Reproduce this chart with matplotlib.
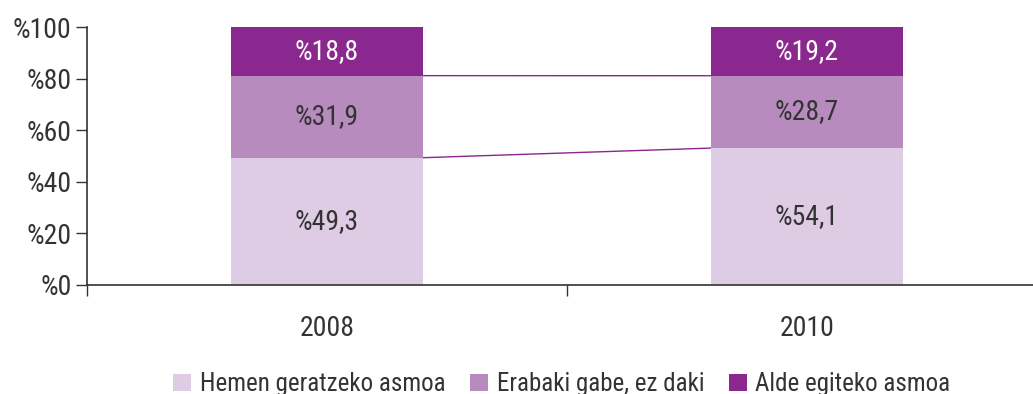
import numpy as np
import matplotlib.pyplot as plt
from matplotlib.patches import Patch

plt.rcParams['font.family'] = ['Roboto Condensed', 'DejaVu Sans']
plt.rcParams['font.stretch'] = 'condensed'

years = ['2008', '2010']
series = ['Hemen geratzeko asmoa', 'Erabaki gabe, ez daki', 'Alde egiteko asmoa']
values = [
    [49.3, 54.1],   # Hemen geratzeko asmoa
    [31.9, 28.7],   # Erabaki gabe, ez daki
    [18.8, 19.2],   # Alde egiteko asmoa
]
colors = ['#ddcce3', '#b78bbd', '#8b288f']
text_colors = ['#333333', '#333333', 'white']

# 100 % stacked: each year is scaled to its own total
vals = np.array(values)
shares = vals / vals.sum(axis=0) * 100

fig = plt.figure(figsize=(10.33, 3.94), dpi=100)
# x axis runs past the right edge of the figure
ax = fig.add_axes([87 / 1033, 1 - 284.5 / 394, 960 / 1033, 257.2 / 394])

x = np.arange(len(years))
width = 0.4
bottom = np.zeros(len(years))
for raw, sh, col, tcol in zip(vals, shares, colors, text_colors):
    ax.bar(x, sh, width, bottom=bottom, color=col, zorder=2)
    for xi, b, h, v in zip(x, bottom, sh, raw):
        ax.text(xi, b + h / 2, '%' + f'{v:.1f}'.replace('.', ','),
                ha='center', va='center', color=tcol, fontsize=20, zorder=3)
    bottom = bottom + sh
    # series lines between the bars
    if col != colors[-1]:
        ax.plot([x[0] + width / 2, x[1] - width / 2], [bottom[0], bottom[1]],
                color='#8b288f', lw=1, zorder=1)

ax.set_xlim(-0.5, 1.5)
ax.set_ylim(0, 100)
ax.set_yticks(np.arange(0, 101, 20))
ax.set_yticklabels(['%' + str(v) for v in range(0, 101, 20)])
ax.set_xticks([-0.5, 0.5, 1.5])
ax.set_xticklabels([])
ax.set_xticks(x, minor=True)
ax.set_xticklabels(years, minor=True)
ax.tick_params(axis='x', which='major', length=8, width=1, color='#333333', direction='out')
ax.tick_params(axis='x', which='minor', length=0, pad=22, labelsize=20, labelcolor='#333333')
ax.tick_params(axis='y', length=8, width=1, color='#333333', labelsize=20,
               labelcolor='#333333', pad=3)

for s in ['top', 'right']:
    ax.spines[s].set_visible(False)
for s in ['left', 'bottom']:
    ax.spines[s].set_color('#333333')
    ax.spines[s].set_linewidth(1.2)

handles = [Patch(facecolor=c, label=l) for c, l in zip(colors, series)]
fig.legend(handles=handles, loc='center', bbox_to_anchor=(562 / 1033, 10 / 394),
           ncol=3, frameon=False, fontsize=18, handlelength=0.7, handleheight=0.7,
           handletextpad=0.35, columnspacing=1.0, labelcolor='#333333',
           borderpad=0)

fig.savefig('out.png', dpi=100)
